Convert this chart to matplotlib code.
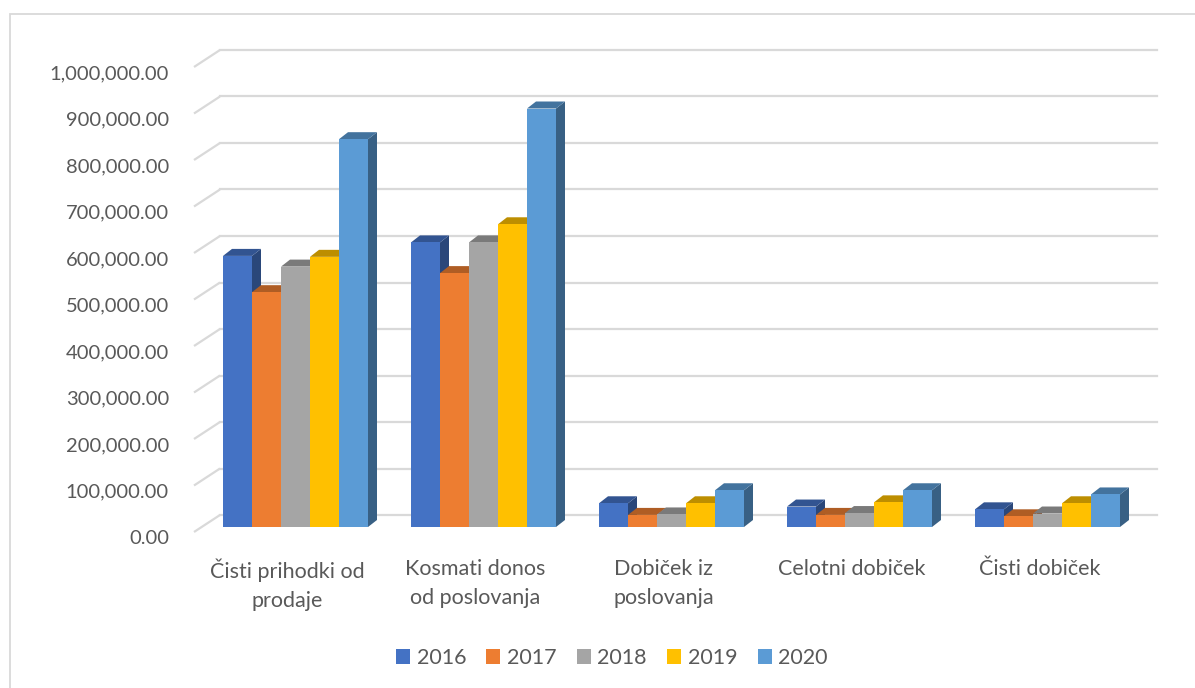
import matplotlib
matplotlib.use("Agg")
import matplotlib.pyplot as plt
from matplotlib.patches import Polygon, Rectangle
from matplotlib.colors import to_rgb
import matplotlib.transforms as mtrans
import numpy as np

categories = ["Čisti prihodki od\nprodaje", "Kosmati donos\nod poslovanja",
              "Dobiček iz\nposlovanja", "Celotni dobiček", "Čisti dobiček"]
years = ["2016", "2017", "2018", "2019", "2020"]
v2016 = [583000, 612000, 51000, 44000, 38000]
v2017 = [505000, 546000, 26000, 26000, 23000]
v2018 = [560000, 612000, 27000, 30000, 29000]
v2019 = [581000, 651000, 51000, 53000, 51000]
v2020 = [834000, 900000, 79000, 79000, 70000]
series = [v2016, v2017, v2018, v2019, v2020]
colors = ["#4472C4", "#ED7D31", "#A5A5A5", "#FFC000", "#5B9BD5"]
yticks = np.arange(0, 1000001, 100000)
ytick_labels = [f"{v:,.2f}" for v in yticks]

W, H = 1195, 688
fig = plt.figure(figsize=(W / 100, H / 100), dpi=100)
plt.rcParams['font.family'] = ['Lato', 'DejaVu Sans']

# pixel geometry -> data conversion
cat_px = 188.0          # px per category
val_px = 46.5 / 100000  # px per value unit
x0_px = 295.5           # px of category 0 centre (front face)
base_px = 527           # px (from top) of bar front baseline
left_px, right_px = 180, 1190
bottom_px, top_px = 545, 20

ax = fig.add_axes([left_px / W, 1 - bottom_px / H, (right_px - left_px) / W,
                   (bottom_px - top_px) / H])
ax.set_xlim((left_px - x0_px) / cat_px, (right_px - x0_px) / cat_px)
ax.set_ylim((base_px - bottom_px) / val_px, (base_px - top_px) / val_px)
for s in ax.spines.values():
    s.set_visible(False)

def dxd(px):
    return px / cat_px

def dyd(px):
    return px / val_px

# back wall offset relative to bar front plane
bx, by = dxd(18.5), dyd(12)
# floor front offset relative to bar front plane
fx, fy = dxd(-7.5), dyd(-5)
grid_right = dxd(1157 - x0_px)
grid_col = "#D9D9D9"
for v in yticks:
    ax.plot([fx - 0.5, bx - 0.5], [v + fy, v + by],
            color=grid_col, lw=1.6, zorder=1, solid_capstyle="butt",
            clip_on=False)
for v in yticks:
    ax.plot([bx - 0.5, grid_right], [v + by, v + by], color=grid_col, lw=1.6,
            zorder=1, clip_on=False)

# bars
n = len(series)
bw = 29 / cat_px
group_w = n * bw
ddx, ddy = dxd(9), dyd(7)
x = np.arange(len(categories))

def shade(c, f):
    r, g, b = to_rgb(c)
    return (r * f, g * f, b * f)

for k, (vals, col) in enumerate(zip(series, colors)):
    xs = x - group_w / 2 + k * bw
    for xi, v in zip(xs, vals):
        z = 10 + k
        side = Polygon([(xi + bw, 0), (xi + bw + ddx, ddy), (xi + bw + ddx, v + ddy),
                        (xi + bw, v)], closed=True, facecolor=shade(col, 0.62),
                       edgecolor="none", zorder=z)
        top = Polygon([(xi, v), (xi + bw, v), (xi + bw + ddx, v + ddy),
                       (xi + ddx, v + ddy)], closed=True, facecolor=shade(col, 0.74),
                      edgecolor="none", zorder=z)
        ax.add_patch(side)
        ax.add_patch(top)
    ax.bar(xs, vals, width=bw, align="edge", color=col, zorder=10 + k + 0.5,
           label=years[k], linewidth=0)

# axes ticks
ax.set_yticks(yticks)
ax.set_yticklabels(ytick_labels)
ax.tick_params(axis="y", length=0, pad=8, labelsize=14.5, labelcolor="#595959")
for lab in ax.get_yticklabels():
    lab.set_transform(lab.get_transform() +
                      mtrans.ScaledTranslation(0, -10 / 100, fig.dpi_scale_trans))

ax.set_xticks(x - dxd(8))
ax.set_xticklabels(categories, linespacing=1.55)
ax.tick_params(axis="x", length=0, pad=10, labelsize=15.5, labelcolor="#595959")

leg = ax.legend(loc="center", bbox_to_anchor=(612 / W, 1 - 658 / H),
                bbox_transform=fig.transFigure, ncol=5, frameon=False,
                fontsize=15.5, handlelength=0.65, handleheight=0.65,
                handletextpad=0.3, columnspacing=0.95)
for t in leg.get_texts():
    t.set_color("#595959")

# chart border
fig.patches.append(Rectangle((10 / W, -0.1), 1.2, 1 - 14 / H + 0.1,
                             transform=fig.transFigure, fill=False,
                             edgecolor="#D9D9D9", lw=1.3))

fig.savefig("out.png", dpi=100)
